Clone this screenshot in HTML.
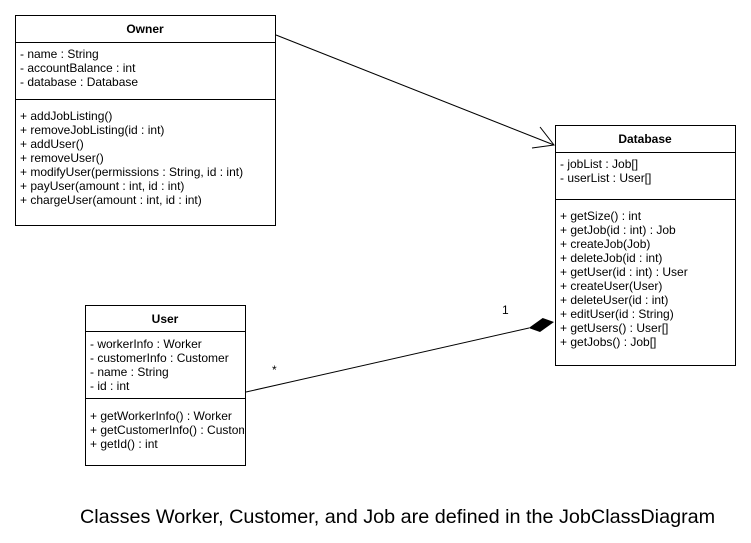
<!DOCTYPE html>
<html><head><meta charset="utf-8"><style>
html,body{margin:0;padding:0;background:#fff;}
svg{display:block;}
text{font-family:"Liberation Sans",Arial,sans-serif;font-size:12px;fill:#000;}
.t{font-weight:bold;text-anchor:middle;}
</style></head><body>
<svg width="751" height="543" viewBox="0 0 751 543" xmlns="http://www.w3.org/2000/svg">
<g fill="#fff" stroke="#000" stroke-width="1">
<rect x="15.5" y="15.5" width="260" height="210"/>
<line x1="15.5" y1="42.5" x2="275.5" y2="42.5"/>
<line x1="15.5" y1="99.5" x2="275.5" y2="99.5"/>
<rect x="555.5" y="125.5" width="180" height="240"/>
<line x1="555.5" y1="152.5" x2="735.5" y2="152.5"/>
<line x1="555.5" y1="199.5" x2="735.5" y2="199.5"/>
<rect x="85.5" y="305.5" width="160" height="160"/>
<line x1="85.5" y1="331.5" x2="245.5" y2="331.5"/>
<line x1="85.5" y1="398.5" x2="245.5" y2="398.5"/>
</g>
<g stroke="#000" fill="none">
<line x1="276" y1="35" x2="554" y2="145"/>
<polyline points="540,127 554,145 532,148"/>
<line x1="246" y1="392" x2="529" y2="328"/>
</g>
<polygon points="554,322 542.7,318 528.7,328 540,332" fill="#000"/>
<text x="502" y="314">1</text>
<text x="272" y="374">*</text>
<text class="t" x="145" y="33">Owner</text>
<text x="20" y="58">- name : String</text>
<text x="20" y="72">- accountBalance : int</text>
<text x="20" y="86">- database : Database</text>
<text x="20" y="120">+ addJobListing()</text>
<text x="20" y="134">+ removeJobListing(id : int)</text>
<text x="20" y="148">+ addUser()</text>
<text x="20" y="162">+ removeUser()</text>
<text x="20" y="176">+ modifyUser(permissions : String, id : int)</text>
<text x="20" y="190">+ payUser(amount : int, id : int)</text>
<text x="20" y="204">+ chargeUser(amount : int, id : int)</text>
<text class="t" x="645" y="143">Database</text>
<text x="560" y="168">- jobList : Job[]</text>
<text x="560" y="182">- userList : User[]</text>
<text x="560" y="220">+ getSize() : int</text>
<text x="560" y="234">+ getJob(id : int) : Job</text>
<text x="560" y="248">+ createJob(Job)</text>
<text x="560" y="262">+ deleteJob(id : int)</text>
<text x="560" y="276">+ getUser(id : int) : User</text>
<text x="560" y="290">+ createUser(User)</text>
<text x="560" y="304">+ deleteUser(id : int)</text>
<text x="560" y="318">+ editUser(id : String)</text>
<text x="560" y="332">+ getUsers() : User[]</text>
<text x="560" y="346">+ getJobs() : Job[]</text>
<text class="t" x="165" y="323">User</text>
<svg x="86" y="332" width="158" height="133">
<text x="4" y="16">- workerInfo : Worker</text>
<text x="4" y="30">- customerInfo : Customer</text>
<text x="4" y="44">- name : String</text>
<text x="4" y="58">- id : int</text>
<text x="4" y="88">+ getWorkerInfo() : Worker</text>
<text x="4" y="102">+ getCustomerInfo() : Customer</text>
<text x="4" y="116">+ getId() : int</text>
</svg>
<text x="80" y="523" style="font-size:19.8px">Classes Worker, Customer, and Job are defined in the JobClassDiagram</text>
</svg>
</body></html>
